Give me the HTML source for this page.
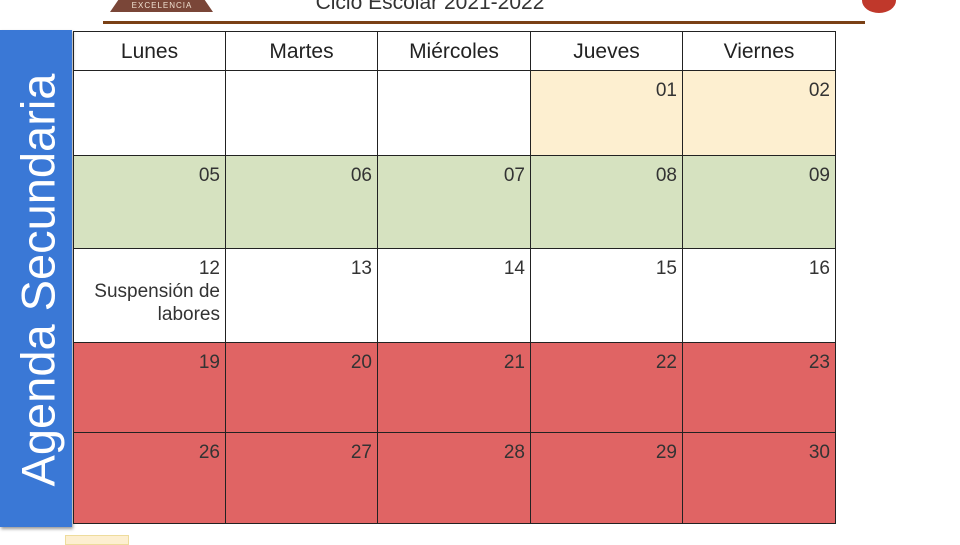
<!DOCTYPE html>
<html><head><meta charset="utf-8"><style>
body{margin:0;width:960px;height:540px;position:relative;overflow:hidden;background:#fff;font-family:"Liberation Sans",sans-serif;}
.a{position:absolute;box-sizing:border-box;}
.c{position:absolute;box-sizing:border-box;border:1px solid #222;font-size:19px;color:#333;text-align:right;padding:8px 5px 0 0;line-height:23px;}
.h{text-align:center;padding:8px 0 0 0;font-size:21px;color:#222;}
</style></head><body>
<div class="a" style="left:110px;top:0;width:103px;height:12px;background:#7a4638;clip-path:polygon(0 100%,8% 0,92% 0,100% 100%);"></div>
<div class="a" style="left:126px;top:1px;width:72px;font-size:8px;color:#f0e0d0;text-align:center;letter-spacing:1px;">EXCELENCIA</div>
<div class="a" style="left:300px;top:-9px;width:260px;text-align:center;font-size:21px;color:#333;">Ciclo Escolar 2021-2022</div>
<div class="a" style="left:862px;top:-12px;width:34px;height:25px;background:#c0382b;border-radius:50%;"></div>
<div class="a" style="left:103px;top:21px;width:762px;height:3px;background:#7a4015;"></div>
<div class="a" style="left:0;top:30px;width:72px;height:497px;background:#3a78d6;box-shadow:1px 2px 3px #999;"></div>
<div class="a" style="left:38px;top:280px;width:0;height:0;"><div style="position:absolute;transform:translate(-50%,-50%) rotate(-90deg);white-space:nowrap;font-size:47px;color:#fff;">Agenda Secundaria</div></div>
<div class="a" style="left:65px;top:535px;width:64px;height:10px;background:#fdefd0;border:1px solid #eedc9c;"></div>
<div id="g"></div>
<script>
var xs=[73,225,377,530,682,835],ys=[31,70,155,248,342,432,523];
var names=["Lunes","Martes","Miércoles","Jueves","Viernes"];
var Y="#fdefd0",G="#d6e2c0",W="#fff",R="#e06464";
var rows=[[["",W],["",W],["",W],["01",Y],["02",Y]],
[["05",G],["06",G],["07",G],["08",G],["09",G]],
[["12<br>Suspensión de<br>labores",W],["13",W],["14",W],["15",W],["16",W]],
[["19",R],["20",R],["21",R],["22",R],["23",R]],
[["26",R],["27",R],["28",R],["29",R],["30",R]]];
var h="";
for(var i=0;i<5;i++){
h+='<div class="c h" style="left:'+xs[i]+'px;top:31px;width:'+(xs[i+1]-xs[i]+1)+'px;height:40px;">'+names[i]+'</div>';
for(var r=0;r<5;r++){var d=rows[r][i];
h+='<div class="c" style="left:'+xs[i]+'px;top:'+ys[r+1]+'px;width:'+(xs[i+1]-xs[i]+1)+'px;height:'+(ys[r+2]-ys[r+1]+1)+'px;background:'+d[1]+';">'+d[0]+'</div>';}}
document.getElementById("g").innerHTML=h;
</script>
</body></html>
